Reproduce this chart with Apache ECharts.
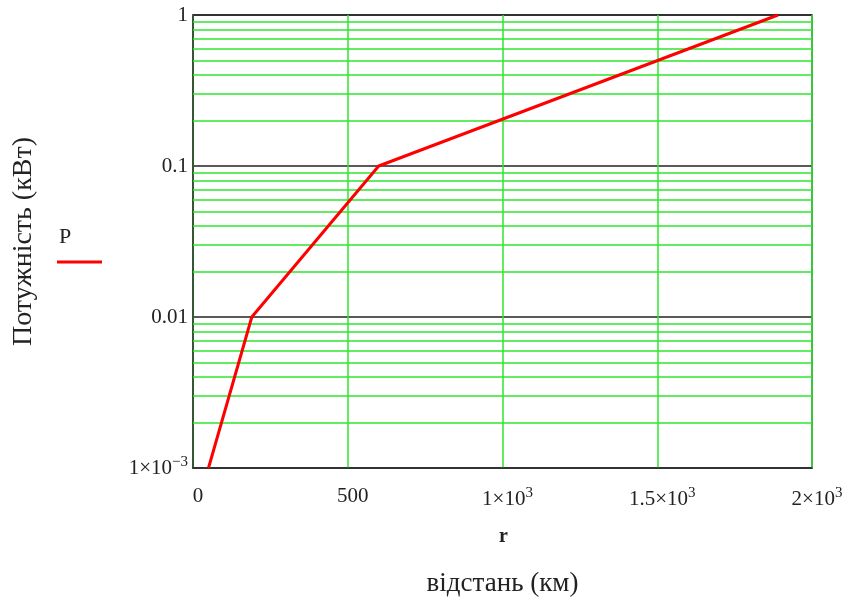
<!DOCTYPE html>
<html>
<head>
<meta charset="utf-8">
<script src="https://cdn.jsdelivr.net/npm/echarts@6/dist/echarts.min.js"></script>
<style>html,body{margin:0;padding:0;background:#fff}#c{width:843px;height:599px}</style>
</head>
<body>
<div id="c"></div>
<script>
// Data
const distances = [50, 190, 600, 1890];
const power = [0.001, 0.01, 0.1, 1];
const xTicks = [0, 500, 1000, 1500, 2000];
const xTickLabels = ['0', '500', '1×10|3', '1.5×10|3', '2×10|3'];
const yTicks = [0.001, 0.01, 0.1, 1];
const yTickLabels = ['1×10|−3', '0.01', '0.1', '1'];
const yMinor = [0.002,0.003,0.004,0.005,0.006,0.007,0.008,0.009,
                0.02,0.03,0.04,0.05,0.06,0.07,0.08,0.09,
                0.2,0.3,0.4,0.5,0.6,0.7,0.8,0.9];

const FONT = '"Liberation Serif", "DejaVu Serif", serif';
const GREEN = '#2ee62e';
function fmt(lbl){
  if (lbl.indexOf('|') < 0) return '{b|' + lbl + '}';
  const p = lbl.split('|');
  return '{b|' + p[0] + '}{s|' + p[1] + '}';
}
const rich = {
  b: {fontFamily: FONT, fontSize: 21, color: '#222'},
  s: {fontFamily: FONT, fontSize: 15, color: '#222', padding: [0,0,11,0]}
};

const chart = echarts.init(document.getElementById('c'), null, {renderer: 'canvas'});
chart.setOption({
  animation: false,
  grid: {left: 193, top: 15, right: 31, bottom: 131, outerBoundsMode: 'none', containLabel: false,
         show: true, borderColor: '#333', borderWidth: 1.5, backgroundColor: 'transparent'},
  xAxis: {
    type: 'value', min: 0, max: 2000, interval: 500,
    axisLine: {show: true, onZero: false, lineStyle: {color: '#333', width: 1.5}},
    axisTick: {show: false},
    axisLabel: {margin: 18, padding: [0,0,0,10], formatter: v => fmt(xTickLabels[xTicks.indexOf(v)] || String(v)), rich: rich},
    splitLine: {show: true, lineStyle: {color: GREEN, width: 1.5}},
    name: 'відстань (км)', nameLocation: 'middle', nameGap: 102,
    nameTextStyle: {fontFamily: FONT, fontSize: 27, color: '#222'}
  },
  yAxis: {
    type: 'log', logBase: 10, min: 0.001, max: 1,
    axisLine: {show: true, lineStyle: {color: '#333', width: 1.5}},
    axisTick: {show: false},
    axisLabel: {margin: 5, formatter: v => {
      let i = yTicks.findIndex(t => Math.abs(Math.log10(t) - Math.log10(v)) < 1e-6);
      return fmt(i >= 0 ? yTickLabels[i] : String(v));
    }, rich: rich},
    splitLine: {show: true, lineStyle: {color: '#222', width: 1.5}},
    name: 'Потужність (кВт)', nameLocation: 'middle', nameRotate: 90, nameGap: 155,
    nameTextStyle: {fontFamily: FONT, fontSize: 28, color: '#222'}
  },
  series: [{
    type: 'line',
    data: distances.map((d, i) => [d, power[i]]),
    symbol: 'none',
    lineStyle: {color: '#ff0000', width: 3},
    z: 5,
    markLine: {
      silent: true, symbol: ['none','none'], label: {show: false}, precision: 6,
      lineStyle: {color: GREEN, width: 1.5, type: 'solid'},
      z: 1,
      data: yMinor.map(v => ({yAxis: v}))
    }
  }],
  graphic: [
    {type: 'text', left: 499, top: 527, style: {text: 'r', font: 'bold 20px ' + FONT, fill: '#222'}},
    {type: 'text', left: 59, top: 226, style: {text: 'P', font: '22px ' + FONT, fill: '#222'}},
    {type: 'line', shape: {x1: 57, y1: 262, x2: 102, y2: 262}, style: {stroke: '#ff0000', lineWidth: 3}}
  ]
});
</script>
</body>
</html>
